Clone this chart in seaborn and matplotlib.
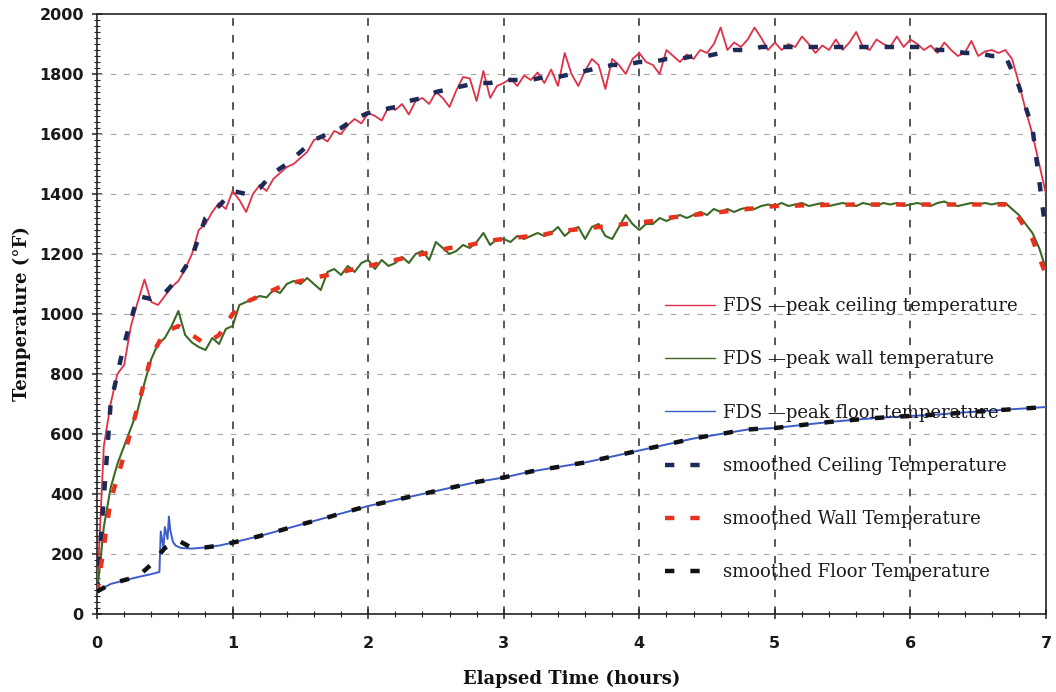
import numpy as np
import pandas as pd
import matplotlib
matplotlib.use("Agg")
import matplotlib.pyplot as plt
from matplotlib.ticker import MultipleLocator
import seaborn as sns

# Time base for the FDS traces (hours, every 0.05 h) and for the smoothed curves (every 0.1 h)
t_fds = [round(i * 0.05, 2) for i in range(141)]
t_smooth = [round(i * 0.1, 1) for i in range(71)]

ceiling_fds = [
    75, 560, 700, 800, 830, 960, 1040, 1115, 1040, 1030,
    1060, 1090, 1110, 1150, 1200, 1280, 1300, 1340, 1370, 1350,
    1410, 1380, 1340, 1400, 1430, 1410, 1450, 1470, 1490, 1500,
    1520, 1540, 1580, 1590, 1575, 1610, 1600, 1630, 1650, 1635,
    1670, 1660, 1645, 1690, 1680, 1700, 1665, 1710, 1720, 1700,
    1740, 1720, 1690, 1745, 1790, 1785, 1710, 1810, 1720, 1760,
    1770, 1785, 1760, 1795, 1780, 1805, 1770, 1815, 1760, 1870,
    1800, 1760, 1810, 1850, 1830, 1750, 1850, 1830, 1800, 1850,
    1870, 1840, 1830, 1800, 1880, 1860, 1840, 1865, 1850, 1880,
    1870, 1900, 1955, 1880, 1905, 1890, 1915, 1955, 1920, 1880,
    1905, 1880, 1900, 1890, 1925, 1900, 1870, 1895, 1880, 1915,
    1880, 1905, 1940, 1890, 1880, 1915, 1900, 1890, 1925, 1890,
    1915, 1900, 1880, 1895, 1870, 1905, 1880, 1860, 1870, 1910,
    1860, 1875, 1880, 1870, 1880, 1850, 1770, 1680, 1600, 1500,
    1400,
]

wall_fds = [
    70, 290, 420, 500, 560, 620, 680, 770, 850, 900,
    920, 960, 1010, 930, 905, 890, 880, 920, 900, 950,
    960, 1030, 1040, 1050, 1060, 1055, 1080, 1070, 1100, 1110,
    1100, 1120, 1100, 1080, 1140, 1150, 1130, 1160, 1140, 1170,
    1180, 1150, 1180, 1160, 1170, 1190, 1170, 1200, 1210, 1180,
    1240, 1220, 1200, 1210, 1230, 1220, 1240, 1270, 1230, 1250,
    1250, 1240, 1260, 1250, 1260, 1270, 1260, 1270, 1290, 1260,
    1280, 1290, 1250, 1290, 1300, 1260, 1250, 1290, 1330, 1300,
    1280, 1300, 1300, 1320, 1310, 1320, 1330, 1320, 1330, 1340,
    1330, 1350, 1340, 1350, 1340, 1350, 1355, 1350, 1360, 1365,
    1360, 1370, 1360, 1365, 1370, 1360, 1365, 1370, 1360, 1365,
    1370, 1365, 1360, 1370, 1365, 1360, 1370, 1365, 1370, 1360,
    1365, 1370, 1365, 1360, 1370, 1375, 1365, 1360, 1365, 1370,
    1365, 1370, 1365, 1370, 1370, 1350, 1330, 1300, 1270, 1220,
    1150,
]

t_floor = [
    0, 0.1, 0.2, 0.3, 0.4, 0.46, 0.47, 0.49, 0.5, 0.52,
    0.53, 0.54, 0.56, 0.58, 0.62, 0.7, 0.8, 0.9, 1.0, 1.2,
    1.4, 1.6, 1.8, 2.0, 2.2, 2.4, 2.6, 2.8, 3.0, 3.2,
    3.4, 3.6, 3.8, 4.0, 4.2, 4.4, 4.6, 4.8, 5.0, 5.2,
    5.4, 5.6, 5.8, 6.0, 6.2, 6.4, 6.6, 6.8, 7.0,
]
floor_fds = [
    75, 100, 112, 123, 133, 140, 275, 220, 290, 250,
    325, 280, 240, 228, 220, 218, 222, 228, 238, 260,
    285, 310, 335, 360, 380, 400, 420, 440, 455, 475,
    490, 505, 525, 545, 565, 585, 600, 615, 620, 630,
    640, 648, 655, 660, 665, 672, 678, 684, 690,
]

ceiling_smooth = [
    75, 700, 900, 1060, 1050, 1070, 1120, 1190, 1320, 1360,
    1410, 1400, 1420, 1470, 1500, 1540, 1580, 1600, 1620, 1650,
    1670, 1680, 1690, 1710, 1720, 1740, 1750, 1760, 1770, 1770,
    1780, 1780, 1780, 1790, 1790, 1800, 1810, 1820, 1830, 1830,
    1840, 1840, 1850, 1850, 1860, 1860, 1870, 1880, 1880, 1890,
    1890, 1890, 1890, 1890, 1890, 1890, 1890, 1890, 1890, 1890,
    1890, 1890, 1880, 1880, 1870, 1870, 1860, 1860, 1760, 1620,
    1270,
]

wall_smooth = [
    70, 380, 530, 690, 860, 940, 960, 930, 900, 930,
    1000, 1040, 1060, 1080, 1100, 1110, 1120, 1130, 1140, 1150,
    1160, 1170, 1180, 1190, 1200, 1210, 1220, 1225, 1235, 1245,
    1250, 1255, 1260, 1265, 1275, 1280, 1285, 1290, 1295, 1300,
    1305, 1310, 1320, 1325, 1330, 1335, 1340, 1345, 1350, 1355,
    1360, 1360, 1362, 1362, 1364, 1364, 1365, 1365, 1365, 1365,
    1365, 1365, 1365, 1365, 1365, 1365, 1365, 1365, 1320, 1250,
    1130,
]

floor_smooth = [
    75, 100, 113, 125, 165, 220, 245, 220, 222, 228,
    238, 248, 260, 272, 285, 298, 310, 322, 335, 348,
    360, 370, 380, 390, 400, 410, 420, 430, 440, 448,
    455, 465, 475, 483, 490, 498, 505, 515, 525, 535,
    545, 555, 565, 575, 585, 593, 600, 608, 615, 618,
    620, 625, 630, 635, 640, 644, 648, 652, 655, 658,
    660, 662, 665, 668, 672, 675, 678, 681, 684, 687,
    690,
]

labels = [
    "FDS \u2014peak ceiling temperature",
    "FDS \u2014peak wall temperature",
    "FDS \u2014peak floor temperature",
    "smoothed Ceiling Temperature",
    "smoothed Wall Temperature",
    "smoothed Floor Temperature",
]
x_ticks = [0, 1, 2, 3, 4, 5, 6, 7]
y_ticks = list(range(0, 2001, 200))

sns.set_theme(style="white")
plt.rcParams["font.family"] = ["DejaVu Sans"]

fig = plt.figure(figsize=(10.56, 6.92), dpi=100)
ax = fig.add_axes([0.0919, 0.1127, 0.8986, 0.8671])

# grid drawn first so the curves sit on top
for xv in x_ticks[1:-1]:
    ax.axvline(xv, color="#2a2a2a", lw=1.1, dashes=(5, 6), zorder=1)
for yv in y_ticks[1:-1]:
    ax.axhline(yv, color="#a8a8a8", lw=0.8, dashes=(5, 7), zorder=1)

fds_styles = [
    (t_fds, ceiling_fds, "#e03048", 1.3),
    (t_fds, wall_fds, "#3c6a26", 1.5),
    (t_floor, floor_fds, "#3c5cc8", 1.4),
]
smooth_styles = [
    (t_smooth, ceiling_smooth, "#1c2a58"),
    (t_smooth, wall_smooth, "#e8321e"),
    (t_smooth, floor_smooth, "#111111"),
]

handles = []
for (x, y, c, lw), lab in zip(fds_styles, labels[:3]):
    sns.lineplot(x=x, y=y, ax=ax, color=c, lw=lw, zorder=3, label=lab)
    handles.append(ax.lines[-1])
for (x, y, c), lab in zip(smooth_styles, labels[3:]):
    sns.lineplot(x=x, y=y, ax=ax, color=c, lw=3.2, zorder=4, label=lab)
    line = ax.lines[-1]
    line.set_dashes((2.1, 3.6))
    line.set_dash_capstyle("butt")
    handles.append(line)

ax.set_xlim(0, 7)
ax.set_ylim(0, 2000)
ax.set_xticks(x_ticks)
ax.set_yticks(y_ticks)
ax.xaxis.set_minor_locator(MultipleLocator(0.2))
ax.yaxis.set_minor_locator(MultipleLocator(20))
ax.tick_params(axis="both", which="major", direction="inout", length=7,
               width=1.1, color="#222222", labelsize=11.5, pad=6)
ax.tick_params(axis="both", which="minor", direction="inout", length=4,
               width=0.8, color="#222222")
ax.tick_params(axis="x", which="major", pad=12)
ax.tick_params(left=True, bottom=True, which="both")
for lbl in ax.get_xticklabels() + ax.get_yticklabels():
    lbl.set_fontweight("bold")
    lbl.set_color("#1a1a1a")

for sp in ax.spines.values():
    sp.set_color("#222222")
    sp.set_linewidth(1.2)

ax.set_xlabel("Elapsed Time (hours)", fontsize=13, fontweight="bold",
              family=["DejaVu Serif"], color="#111111", labelpad=14)
ax.set_ylabel("Temperature (\u00b0F)", fontsize=13, fontweight="bold",
              family=["DejaVu Serif"], color="#111111", labelpad=6)

leg = ax.legend(handles=handles, labels=labels, loc="upper left",
                bbox_to_anchor=(0.587, 0.546), frameon=False,
                prop={"family": "DejaVu Serif", "size": 13},
                labelspacing=1.95, handlelength=2.8, handletextpad=0.4,
                borderaxespad=0.2)
for h in leg.get_lines()[:3]:
    h.set_linewidth(1.0)
for t in leg.get_texts():
    t.set_color("#1a1a1a")

fig.savefig("out.png", dpi=100)
